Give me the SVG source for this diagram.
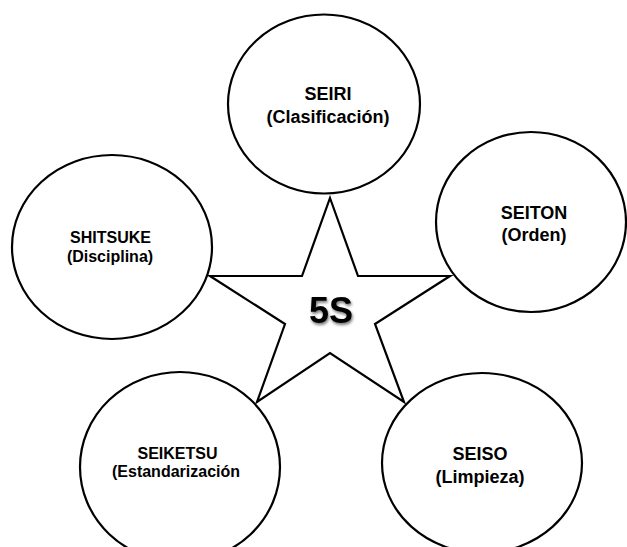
<svg xmlns="http://www.w3.org/2000/svg" width="627" height="547" viewBox="0 0 627 547">
<defs>
<style>
.c{fill:#fff;stroke:#000;stroke-width:2.2}
.t{font-family:"Liberation Sans",Arial,sans-serif;font-weight:bold;fill:#000;text-anchor:middle}
.s18{font-size:18px}
.s16{font-size:16px}
</style>
<filter id="sh" x="-30%" y="-30%" width="160%" height="160%">
<feDropShadow dx="1" dy="2" stdDeviation="1.6" flood-color="#000" flood-opacity="0.55"/>
</filter>
</defs>
<rect width="627" height="547" fill="#fff"/>
<g id="seiri">
<ellipse class="c" cx="324" cy="104" rx="96" ry="89.5"/>
<text class="t s18" x="328" y="100">SEIRI</text>
<text class="t s18" x="328" y="122.5">(Clasificación)</text>
</g>
<g id="shitsuke">
<ellipse class="c" cx="112" cy="247" rx="100" ry="92"/>
<text class="t s16" x="110.5" y="242.5">SHITSUKE</text>
<text class="t s16" x="110" y="261.5">(Disciplina)</text>
</g>
<g id="seiton">
<ellipse class="c" cx="531" cy="222" rx="95" ry="90"/>
<text class="t s18" x="534" y="218.5">SEITON</text>
<text class="t s18" x="534" y="240.5">(Orden)</text>
</g>
<g id="seiketsu">
<ellipse class="c" cx="180" cy="467" rx="100" ry="95"/>
<text class="t s16" x="177.5" y="458.5">SEIKETSU</text>
<text class="t s16" x="176" y="476.5">(Estandarización</text>
</g>
<g id="seiso">
<ellipse class="c" cx="482" cy="463" rx="100" ry="90"/>
<text class="t s18" x="480" y="460">SEISO</text>
<text class="t s18" x="480" y="483">(Limpieza)</text>
</g>
<g id="star">
<polygon class="c" stroke-linejoin="miter" points="330,198 358,276 450,276 375,324 404,402 330,353 257,402 285,324 210,276 302,276"/>
<text class="t" font-size="36" x="331" y="323" filter="url(#sh)">5S</text>
</g>
<g id="connectors"/>
</svg>
